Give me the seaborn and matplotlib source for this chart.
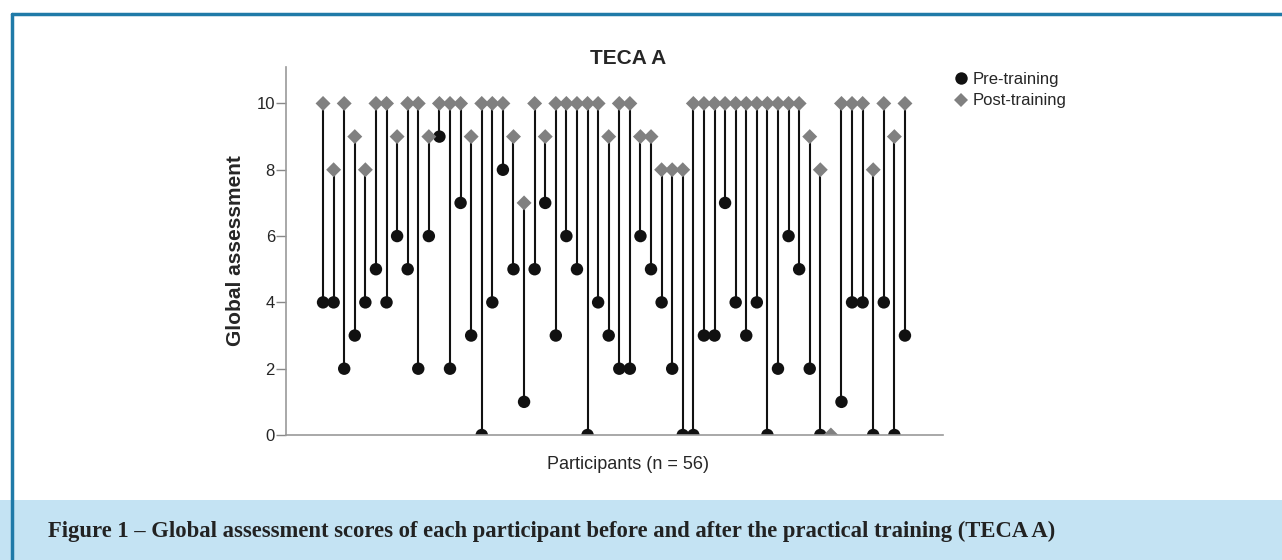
import numpy as np
import pandas as pd
import matplotlib
matplotlib.use("Agg")
import matplotlib.pyplot as plt
import seaborn as sns
from matplotlib.patches import Rectangle
from matplotlib.lines import Line2D

# ---------------------------
# data
# ---------------------------
participants = list(range(1, 57))
pre_scores = [4, 4, 2, 3, 4, 5, 4, 6, 5, 2,
              6, 9, 2, 7, 3, 0, 4, 8, 5, 1,
              5, 7, 3, 6, 5, 0, 4, 3, 2, 2,
              6, 5, 4, 2, 0, 0, 3, 3, 7, 4,
              3, 4, 0, 2, 6, 5, 2, 0, np.nan, 1,
              4, 4, 0, 4, 0, 3]
post_scores = [10, 8, 10, 9, 8, 10, 10, 9, 10, 10,
               9, 10, 10, 10, 9, 10, 10, 10, 9, 7,
               10, 9, 10, 10, 10, 10, 10, 9, 10, 10,
               9, 9, 8, 8, 8, 10, 10, 10, 10, 10,
               10, 10, 10, 10, 10, 10, 9, 8, 0, 10,
               10, 10, 8, 10, 9, 10]
labels = ["Pre-training", "Post-training"]

df = pd.DataFrame({"Participant": participants, "Pre-training": pre_scores,
                   "Post-training": post_scores})
long_df = df.melt(id_vars="Participant", value_vars=labels,
                  var_name="Time", value_name="Score").dropna()

sns.set_theme(style="white")
plt.rcParams["font.family"] = ["Liberation Sans", "DejaVu Sans"]

fig = plt.figure(figsize=(12.82, 5.6), dpi=100)

# frame + caption band
fig.patches.append(Rectangle((0, 0), 1, 60 / 560, transform=fig.transFigure,
                             facecolor="#c4e3f3", edgecolor="none", zorder=0))
fig.add_artist(Line2D([12 / 1282, 12 / 1282], [0, 1 - 14 / 560], transform=fig.transFigure,
                      color="#1f7aa8", lw=2.5))
fig.add_artist(Line2D([12 / 1282, 1], [1 - 14 / 560, 1 - 14 / 560], transform=fig.transFigure,
                      color="#1f7aa8", lw=2.5))

ax = fig.add_axes([0.2231, 0.2232, 0.5125, 0.6572])

# stems
stem_df = df.dropna()
ax.vlines(stem_df["Participant"], stem_df["Pre-training"], stem_df["Post-training"],
          color="#111111", lw=1.5, zorder=1)

sns.scatterplot(data=long_df, x="Participant", y="Score", hue="Time", style="Time",
                size="Time", hue_order=labels, style_order=labels, size_order=labels,
                palette={"Pre-training": "#111111", "Post-training": "#808080"},
                markers={"Pre-training": "o", "Post-training": "D"},
                sizes={"Pre-training": 80, "Post-training": 58},
                edgecolor="none", linewidth=0, ax=ax, zorder=2)

ax.set_xlim(-2.5, 59.6)
ax.set_ylim(0, 11.1)
ax.set_xticks([])
ax.set_yticks([0, 2, 4, 6, 8, 10])
ax.tick_params(axis="y", direction="out", length=7, width=1, color="#888888",
               labelsize=12, pad=1, left=True)
for side in ["top", "right"]:
    ax.spines[side].set_visible(False)
for side in ["left", "bottom"]:
    ax.spines[side].set_color("#999999")
    ax.spines[side].set_linewidth(1.2)

ax.set_title("TECA A", fontsize=15, fontweight="bold", pad=2, x=0.52)
ax.set_xlabel("Participants (n = 56)", fontsize=13, labelpad=15, x=0.52)
ax.set_ylabel("Global assessment", fontsize=15, fontweight="bold", labelpad=8)

handles, _ = ax.get_legend_handles_labels()
ax.legend(handles=handles, labels=labels, loc="upper left", bbox_to_anchor=(1.005, 1.005),
          frameon=False, fontsize=12, handletextpad=0.2, labelspacing=0.4,
          borderaxespad=0, handlelength=1.0)

fig.text(48 / 1282, 1 - 531 / 560,
         "Figure 1 \u2013 Global assessment scores of each participant before and after the practical training (TECA A)",
         fontsize=16.3, fontweight="bold", family=["Liberation Serif", "DejaVu Serif"],
         color="#222222", va="center", ha="left")

fig.savefig("out.png", dpi=100)
